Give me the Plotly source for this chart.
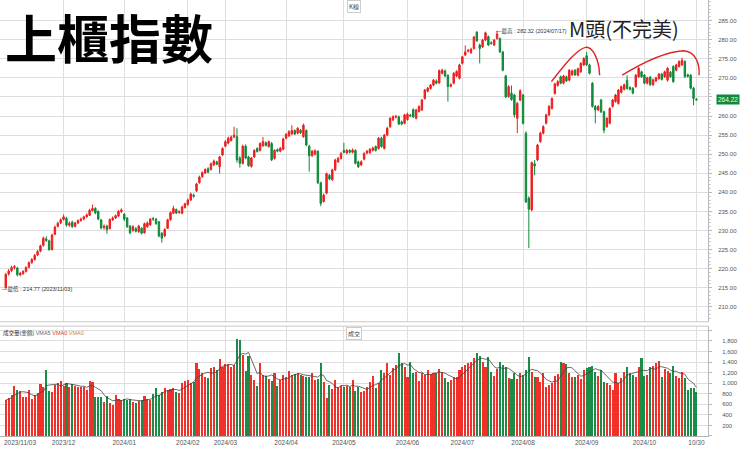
import pandas as pd
import plotly.graph_objects as go

# ---------------- data ----------------
HOLIDAYS = ["2024-01-01", "2024-02-06", "2024-02-07", "2024-02-08", "2024-02-09",
            "2024-02-12", "2024-02-13", "2024-02-14", "2024-02-28", "2024-04-04",
            "2024-04-05", "2024-05-01", "2024-06-10", "2024-07-24", "2024-07-25",
            "2024-09-17", "2024-10-02", "2024-10-03", "2024-10-10"]
DATES = [d for d in pd.bdate_range("2023-11-03", "2024-10-30")
         if d.strftime("%Y-%m-%d") not in HOLIDAYS]

OPEN = [
    215.0, 218.6, 219.5, 220.3, 220.2, 218.4, 218.7, 219.3, 220.4, 221.6,
    222.4, 223.6, 224.6, 226.1, 227.8, 227.3, 225.0, 229.0, 231.1, 232.0,
    232.9, 233.2, 231.4, 232.2, 231.1, 232.0, 232.6, 233.0, 233.6, 234.0,
    235.2, 235.8, 235.0, 232.8, 230.8, 231.2, 230.5, 232.8, 233.3, 233.8,
    235.0, 234.3, 233.3, 231.2, 230.0, 230.5, 229.7, 230.6, 229.4, 231.0,
    231.5, 233.1, 233.0, 232.3, 229.3, 228.6, 230.6, 232.8, 234.5, 235.5,
    234.7, 234.5, 236.0, 236.8, 238.0, 239.3, 240.4, 242.5, 244.1, 245.1,
    246.2, 246.0, 247.2, 248.0, 246.7, 249.8, 252.1, 252.9, 253.6, 254.5,
    254.6, 249.0, 247.6, 252.1, 249.3, 246.8, 249.3, 251.5, 251.0, 252.2,
    253.0, 252.0, 252.8, 248.9, 251.2, 250.8, 251.3, 254.2, 254.8, 255.3,
    256.2, 255.5, 256.3, 254.6, 256.2, 252.1, 249.6, 250.0, 250.8, 242.5,
    237.6, 239.8, 244.5, 243.3, 245.9, 248.0, 248.9, 251.0, 250.3, 251.0,
    250.5, 251.0, 248.0, 247.2, 248.7, 250.3, 250.4, 251.0, 252.0, 251.5,
    254.2, 251.5, 255.0, 257.2, 259.0, 259.7, 259.8, 258.5, 258.1, 259.1,
    260.2, 261.7, 259.4, 261.2, 261.6, 264.6, 266.5, 267.2, 268.1, 269.2,
    268.7, 271.2, 271.8, 270.7, 267.8, 268.6, 270.5, 269.9, 273.8, 276.0,
    277.0, 276.6, 277.7, 282.0, 278.6, 278.1, 279.9, 280.8, 279.2, 278.6,
    280.3, 280.3, 276.8, 270.5, 265.1, 266.0, 265.5, 259.4, 264.2, 265.5,
    255.5, 238.5, 235.4, 247.5, 248.5, 253.3, 255.5, 258.1, 260.3, 262.0,
    265.9, 268.0, 270.3, 268.6, 270.3, 269.4, 270.8, 272.0, 270.7, 271.6,
    273.4, 275.8, 273.4, 268.6, 262.5, 261.6, 264.2, 261.1, 257.2, 258.1,
    262.5, 263.8, 263.3, 266.2, 267.0, 269.4, 267.5, 267.3, 267.7, 270.3,
    271.6, 270.7, 268.6, 270.2, 268.2, 269.2, 269.8, 271.0, 270.3, 269.4,
    271.5, 273.0, 272.0, 273.0, 273.4, 274.3, 270.8, 270.7, 267.3, 264.4]

CLOSE = [
    218.5, 219.4, 220.3, 220.6, 218.4, 218.8, 219.3, 220.3, 221.6, 222.4,
    223.5, 224.5, 226.0, 228.0, 227.4, 225.0, 228.8, 230.9, 231.9, 232.8,
    233.6, 231.4, 231.9, 231.0, 232.0, 232.6, 233.0, 233.6, 234.1, 235.3,
    235.8, 234.6, 233.0, 230.7, 231.1, 230.2, 232.9, 233.3, 233.9, 235.0,
    235.4, 233.0, 231.0, 229.4, 231.0, 229.8, 231.2, 229.3, 231.8, 232.0,
    233.0, 233.0, 231.8, 228.6, 228.0, 230.3, 232.8, 234.7, 235.8, 234.6,
    234.9, 236.2, 237.0, 238.0, 239.6, 239.0, 242.2, 244.0, 245.2, 246.0,
    245.3, 247.5, 248.2, 247.4, 249.3, 251.5, 253.3, 254.2, 254.5, 255.0,
    248.5, 247.6, 252.1, 249.0, 247.0, 249.0, 251.0, 250.7, 252.8, 253.3,
    252.3, 253.3, 248.5, 251.0, 250.8, 251.6, 254.0, 255.2, 255.9, 256.2,
    255.3, 256.8, 255.6, 257.6, 252.4, 249.6, 250.8, 250.9, 242.5, 237.1,
    239.3, 244.9, 243.5, 245.9, 248.5, 248.9, 250.2, 250.5, 251.0, 250.5,
    251.1, 247.6, 246.7, 248.0, 250.2, 250.8, 251.3, 251.6, 251.0, 254.2,
    252.0, 255.0, 256.8, 259.4, 259.8, 259.9, 257.9, 257.9, 260.3, 260.5,
    260.0, 259.8, 261.6, 262.5, 264.2, 266.8, 267.3, 268.1, 269.4, 268.6,
    271.9, 272.0, 270.5, 267.7, 268.2, 271.2, 271.7, 273.4, 275.5, 276.8,
    277.2, 277.5, 280.7, 279.7, 277.7, 279.9, 281.8, 278.6, 279.0, 279.9,
    281.5, 276.8, 272.0, 265.0, 267.7, 264.3, 260.3, 263.3, 266.6, 258.1,
    237.5, 235.6, 247.8, 246.9, 252.4, 255.5, 257.2, 260.3, 262.5, 264.6,
    268.4, 269.0, 268.6, 270.5, 269.2, 272.0, 271.8, 270.8, 272.4, 273.8,
    275.1, 273.4, 271.2, 262.5, 261.6, 262.5, 261.1, 256.3, 259.4, 262.0,
    264.2, 265.5, 266.8, 267.7, 268.2, 267.2, 267.0, 266.0, 270.7, 272.5,
    270.3, 268.6, 270.0, 268.2, 269.5, 270.0, 271.0, 269.6, 271.6, 272.5,
    270.3, 269.0, 273.4, 274.3, 274.6, 270.3, 270.4, 267.3, 264.6, 264.22]

HIGH = [
    218.9, 219.9, 220.8, 221.0, 220.5, 219.2, 219.6, 220.6, 221.9, 222.8,
    223.9, 224.9, 226.3, 228.4, 228.5, 227.6, 229.2, 231.3, 232.3, 233.2,
    234.2, 233.6, 232.4, 232.6, 232.3, 232.9, 233.4, 233.9, 234.5, 235.7,
    236.8, 236.1, 235.3, 233.0, 231.6, 231.5, 233.2, 233.7, 234.2, 235.4,
    235.8, 234.5, 233.5, 231.4, 231.4, 230.9, 231.5, 230.9, 232.1, 232.4,
    233.3, 233.6, 233.3, 232.5, 229.6, 230.6, 233.1, 235.0, 236.5, 235.8,
    235.3, 236.5, 237.3, 238.4, 239.9, 239.7, 242.5, 244.4, 245.5, 246.3,
    246.6, 247.8, 248.6, 248.3, 249.6, 251.8, 253.7, 254.6, 254.9, 257.2,
    256.8, 249.5, 252.5, 252.6, 249.6, 249.3, 251.3, 251.8, 253.1, 254.5,
    253.4, 253.6, 253.2, 251.3, 251.5, 251.9, 254.3, 255.5, 256.3, 257.6,
    256.5, 257.1, 256.6, 258.0, 256.5, 252.5, 251.1, 251.3, 251.0, 242.8,
    239.7, 245.2, 244.8, 246.2, 248.8, 249.3, 250.6, 253.0, 251.4, 251.3,
    251.5, 251.3, 248.3, 248.4, 250.5, 251.1, 251.6, 252.0, 252.3, 254.5,
    254.6, 255.3, 257.2, 259.7, 260.2, 260.3, 260.1, 258.8, 260.6, 260.9,
    260.6, 262.0, 261.9, 262.8, 264.5, 267.1, 267.6, 268.4, 269.7, 269.6,
    272.2, 272.4, 272.2, 270.9, 268.6, 271.5, 272.0, 273.7, 275.8, 278.5,
    277.6, 277.9, 281.0, 282.2, 279.0, 280.2, 282.1, 281.1, 279.6, 280.2,
    282.32, 280.6, 277.1, 270.8, 268.1, 268.0, 265.8, 263.7, 267.0, 265.8,
    256.0, 239.0, 248.1, 248.5, 252.7, 255.9, 257.6, 260.6, 262.9, 264.9,
    268.7, 269.4, 270.6, 270.8, 270.6, 272.3, 272.2, 272.3, 272.7, 274.1,
    275.4, 276.8, 273.7, 268.9, 262.9, 262.9, 264.5, 261.4, 259.7, 262.3,
    264.5, 265.8, 267.1, 268.0, 268.5, 270.7, 267.8, 267.6, 271.0, 272.9,
    271.9, 271.0, 270.3, 270.5, 269.8, 270.3, 271.3, 271.3, 271.9, 272.8,
    271.8, 273.3, 273.7, 274.6, 275.3, 274.6, 271.1, 271.0, 267.6, 264.7]

LOW = [
    214.77, 218.2, 219.1, 219.8, 218.0, 218.0, 218.4, 219.0, 220.1, 221.3,
    222.1, 223.3, 224.3, 225.8, 227.0, 224.7, 224.8, 228.8, 230.8, 231.7,
    232.6, 231.0, 231.0, 230.7, 230.8, 231.7, 232.3, 232.7, 233.3, 233.8,
    235.0, 234.3, 232.7, 230.3, 230.2, 229.2, 230.3, 232.5, 233.0, 233.6,
    234.6, 232.5, 230.7, 229.0, 229.7, 229.5, 229.4, 229.0, 229.2, 230.7,
    231.2, 232.5, 231.5, 228.2, 226.8, 228.3, 230.4, 232.6, 234.3, 234.3,
    234.4, 234.3, 235.8, 236.5, 237.7, 238.6, 240.1, 242.3, 243.8, 244.8,
    245.0, 245.7, 246.9, 247.1, 244.9, 249.5, 251.8, 252.6, 253.3, 254.2,
    247.8, 246.5, 247.3, 248.7, 246.7, 246.5, 249.0, 250.4, 250.7, 251.9,
    252.0, 251.7, 248.2, 248.6, 250.5, 250.5, 251.0, 253.9, 254.5, 255.0,
    255.0, 255.2, 255.3, 254.3, 252.1, 245.4, 249.3, 249.7, 242.2, 236.4,
    237.3, 239.5, 243.2, 243.0, 245.6, 247.7, 248.6, 250.2, 250.0, 250.2,
    250.2, 247.3, 246.4, 246.9, 248.4, 250.0, 250.1, 250.7, 250.7, 251.2,
    251.7, 251.2, 254.7, 256.9, 258.7, 259.4, 257.6, 257.6, 257.8, 258.8,
    259.7, 259.5, 259.1, 260.9, 261.3, 264.3, 266.2, 266.9, 267.8, 268.3,
    268.4, 270.9, 270.2, 263.8, 267.5, 268.3, 270.2, 269.6, 273.5, 275.7,
    276.7, 276.3, 277.4, 279.4, 273.8, 277.8, 279.6, 278.3, 278.7, 278.3,
    280.0, 276.5, 271.7, 264.7, 264.8, 264.0, 259.6, 255.5, 263.9, 257.8,
    237.2, 225.4, 235.1, 244.5, 248.2, 253.0, 255.2, 257.8, 260.0, 261.7,
    265.6, 267.7, 268.3, 268.3, 268.9, 269.1, 270.5, 270.5, 270.4, 271.3,
    273.1, 273.1, 270.9, 262.2, 258.1, 261.3, 260.8, 255.5, 256.9, 257.8,
    262.2, 263.5, 263.0, 265.9, 266.7, 266.9, 266.7, 265.7, 267.4, 270.0,
    270.0, 268.3, 268.3, 267.9, 267.9, 268.9, 269.5, 269.3, 270.0, 269.0,
    270.0, 268.7, 271.7, 272.7, 273.1, 270.0, 270.1, 267.0, 262.8, 264.0]

VOLUME = [
    680, 710, 775, 945, 870, 857, 743, 735, 870, 693,
    775, 820, 977, 932, 1247, 850, 840, 964, 1008, 1046,
    945, 1008, 920, 977, 945, 932, 932, 932, 870, 1040,
    1027, 743, 743, 730, 650, 756, 617, 586, 772, 693,
    680, 693, 680, 693, 650, 630, 668, 680, 756, 693,
    680, 794, 900, 775, 838, 914, 870, 882, 900, 838,
    819, 995, 1046, 1058, 995, 1027, 1373, 1260, 1184, 1121,
    1090, 1279, 1310, 1247, 1449, 1310, 1355, 1355, 1310, 1342,
    1827, 1814, 1531, 1235, 1512, 1153, 1058, 945, 1373, 1153,
    1134, 1071, 1046, 1197, 945, 1058, 1153, 1109, 1235, 1153,
    1172, 1184, 1153, 1134, 1121, 1121, 1197, 1058, 1071, 1373,
    1027, 712, 964, 882, 1058, 932, 951, 932, 945, 920,
    1058, 857, 932, 838, 850, 932, 1027, 1134, 913, 995,
    1247, 1184, 1373, 1153, 1279, 1342, 1562, 1386, 1298, 1121,
    1405, 1197, 1215, 1046, 1184, 1153, 1247, 1172, 1184, 1197,
    1260, 1215, 1090, 1027, 1058, 1109, 1109, 1247, 1310, 1342,
    1373, 1405, 1468, 1562, 1512, 1405, 1310, 1500, 1215, 1134,
    1260, 1405, 1342, 1310, 1090, 1071, 1197, 1071, 1197, 1153,
    1247, 1500, 1215, 1121, 1109, 1027, 1184, 932, 964, 995,
    1134, 1172, 1405, 1373, 1355, 1197, 1121, 1121, 1153, 1071,
    1247, 1279, 1310, 1323, 1215, 1134, 1247, 1027, 995, 964,
    870, 1184, 995, 1090, 1215, 1310, 1184, 1153, 1121, 1310,
    1468, 1134, 1153, 1310, 1323, 1373, 1424, 1121, 1260, 1235,
    1184, 1323, 1134, 1090, 1215, 1090, 870, 901, 901, 838]

PRICE_TICKS = [210, 215, 220, 225, 230, 235, 240, 245, 250, 255, 260, 265, 270, 275, 280, 285]
VOL_TICKS = [0, 200, 400, 600, 800, 1000, 1200, 1400, 1600, 1800, 2000]

n = len(DATES)
assert all(len(a) == n for a in (OPEN, CLOSE, HIGH, LOW, VOLUME)), n
idx = list(range(n))

# month tick positions derived from the trading calendar
tick_pos, tick_txt = [], []
for i in range(1, n):
    if DATES[i].month != DATES[i - 1].month:
        tick_pos.append(i)
        tick_txt.append(DATES[i].strftime("%Y/%m"))
tick_pos.append(n - 1)
tick_txt.append(DATES[-1].strftime("%m/%d"))

RED = "#ec1f1f"
GREEN = "#0f8a3b"
VRED = "#f2302a"
VGREEN = "#1a8c47"
vol_colors = [VRED if c >= o else VGREEN for o, c in zip(OPEN, CLOSE)]
vma5 = pd.Series(VOLUME).rolling(5, min_periods=1).mean()

CJK = "Noto Sans CJK TC, Noto Sans CJK SC, sans-serif"
LAT = "Liberation Sans, Arial, sans-serif"
MIX = "Liberation Sans, Noto Sans CJK TC, sans-serif"

# the last-price tag covers the tick label next to it, as in the original
price_text = ["" if abs(v - CLOSE[-1]) < 2 else f"{v:.2f}" for v in PRICE_TICKS]

fig = go.Figure()
fig.add_trace(go.Candlestick(
    x=idx, open=OPEN, high=HIGH, low=LOW, close=CLOSE,
    increasing=dict(line=dict(color=RED, width=1), fillcolor=RED),
    decreasing=dict(line=dict(color=GREEN, width=1), fillcolor=GREEN),
    whiskerwidth=0, xaxis="x", yaxis="y", hoverinfo="skip"))
fig.add_trace(go.Bar(x=idx, y=VOLUME, marker=dict(color=vol_colors, line=dict(width=0)),
                     width=0.72, xaxis="x2", yaxis="y2", hoverinfo="skip"))
fig.add_trace(go.Scatter(x=idx, y=vma5, mode="lines", line=dict(color="#444", width=0.8),
                         xaxis="x2", yaxis="y2", hoverinfo="skip"))

GRID = "#dedede"
XR = [-2.0, 243.0]
fig.update_layout(
    width=740, height=451, margin=dict(l=0, r=32, t=0, b=15),
    paper_bgcolor="white", plot_bgcolor="white", showlegend=False,
    font=dict(family=LAT, size=6, color="#555"), bargap=0,
    xaxis=dict(domain=[0, 1], range=XR, tickvals=tick_pos, showticklabels=False,
               showgrid=True, gridcolor=GRID, zeroline=False, rangeslider=dict(visible=False),
               anchor="y", fixedrange=True),
    xaxis2=dict(domain=[0, 1], range=XR, tickvals=tick_pos, ticktext=tick_txt,
                showgrid=True, gridcolor=GRID, zeroline=False, anchor="y2", matches="x",
                showline=True, linecolor="#b0b0b0", tickfont=dict(size=6.5, color="#555"), ticklen=0),
    yaxis=dict(domain=[0.262, 1], range=[206.1, 290.4], side="right", tickvals=PRICE_TICKS,
               ticktext=price_text, showgrid=True, gridcolor=GRID, zeroline=False,
               showline=True, linecolor="#b8b8b8", ticks="outside", ticklen=3, tickcolor="#b8b8b8",
               minor=dict(dtick=1, ticks="outside", ticklen=2, tickcolor="#cfcfcf", showgrid=False),
               tickfont=dict(size=6, color="#555"), anchor="x", ticklabelstandoff=5),
    yaxis2=dict(domain=[0, 0.252], range=[0, 2080], side="right", tickvals=VOL_TICKS,
                ticktext=["" if v in (0, 2000) else f"{v:,}" for v in VOL_TICKS],
                showgrid=True, gridcolor=GRID, zeroline=False,
                showline=True, linecolor="#b8b8b8", ticks="outside", ticklen=3, tickcolor="#b8b8b8",
                tickfont=dict(size=6, color="#555"), anchor="x2", ticklabelstandoff=9),
)

# panel separators
fig.add_shape(type="line", xref="paper", yref="paper", x0=0, x1=1, y0=0.262, y1=0.262,
              line=dict(color="#c8c8c8", width=1))
fig.add_shape(type="line", xref="paper", yref="paper", x0=0, x1=1, y0=0.252, y1=0.252,
              line=dict(color="#c8c8c8", width=1))

# hand-drawn style arcs (M-head)
ARC_COLOR = "#e02424"
fig.add_shape(type="path", xref="x", yref="y",
              path="M 188.8,269.0 C 193,273 197.5,277.5 200.6,278.0 C 203,278.3 205.3,275 205.5,270.7",
              line=dict(color=ARC_COLOR, width=1.4))
fig.add_shape(type="path", xref="x", yref="y",
              path="M 213.3,270.7 C 220,273.8 228,276.8 234.5,277.1 C 238.5,276.9 240.2,274 239.9,270.7",
              line=dict(color=ARC_COLOR, width=1.4))

# texts
fig.add_annotation(text="<b>上櫃指數</b>", xref="paper", yref="paper", x=0.004, y=1.0,
                   xanchor="left", yanchor="top", yshift=3, showarrow=False,
                   font=dict(family=CJK, size=52, color="#000"))
fig.add_annotation(text="M頭(不完美)", xref="x", yref="y", x=213.8, y=283.0,
                   xanchor="center", yanchor="middle", showarrow=False,
                   font=dict(family=CJK, size=20, color="#222"))
fig.add_annotation(text="—最高 : 282.32 (2024/07/17)", xref="x", yref="y", x=169.6, y=282.32,
                   xanchor="left", yanchor="middle", xshift=-2, showarrow=False,
                   font=dict(family=MIX, size=5.5, color="#333"))
fig.add_annotation(text="—最低 : 214.77 (2023/11/03)", xref="x", yref="y", x=-1.4, y=214.77,
                   xanchor="left", yanchor="middle", xshift=-2, showarrow=False,
                   font=dict(family=MIX, size=5.5, color="#333"))
fig.add_annotation(text="K線", xref="paper", yref="paper", x=354 / 708, y=0.999,
                   xanchor="center", yanchor="top", showarrow=False, bgcolor="white",
                   bordercolor="#cccccc", borderwidth=1, borderpad=1,
                   font=dict(family=CJK, size=6, color="#444"))
fig.add_annotation(text="成交", xref="paper", yref="paper", x=354 / 708, y=0.249,
                   xanchor="center", yanchor="top", showarrow=False, bgcolor="white",
                   bordercolor="#cccccc", borderwidth=1, borderpad=1,
                   font=dict(family=CJK, size=6, color="#444"))
fig.add_annotation(text=("成交量(金額) <span style='color:#666'>VMA5</span> "
                         "<span style='color:#e8302a'>VMA0</span> "
                         "<span style='color:#c4833e'>VMA0</span>"),
                   xref="paper", yref="paper", x=0.002, y=0.249, xanchor="left", yanchor="top",
                   showarrow=False, font=dict(family=MIX, size=5.5, color="#333"))
fig.add_annotation(text=DATES[0].strftime("%Y/%m/%d"), xref="paper", yref="paper", x=0.003, y=0,
                   xanchor="left", yanchor="top", yshift=-1, showarrow=False,
                   font=dict(family=LAT, size=6.5, color="#555"))
fig.add_annotation(text=f"{CLOSE[-1]:.2f}", xref="paper", yref="y", x=1.012, y=CLOSE[-1],
                   xanchor="left", yanchor="middle", showarrow=False, bgcolor=GREEN,
                   borderpad=1, font=dict(family=LAT, size=6.5, color="#e8ffe8"))

fig.write_html("out.html", config={"displayModeBar": False},
               post_script="document.body.style.margin='0px';document.body.style.overflow='hidden';")
